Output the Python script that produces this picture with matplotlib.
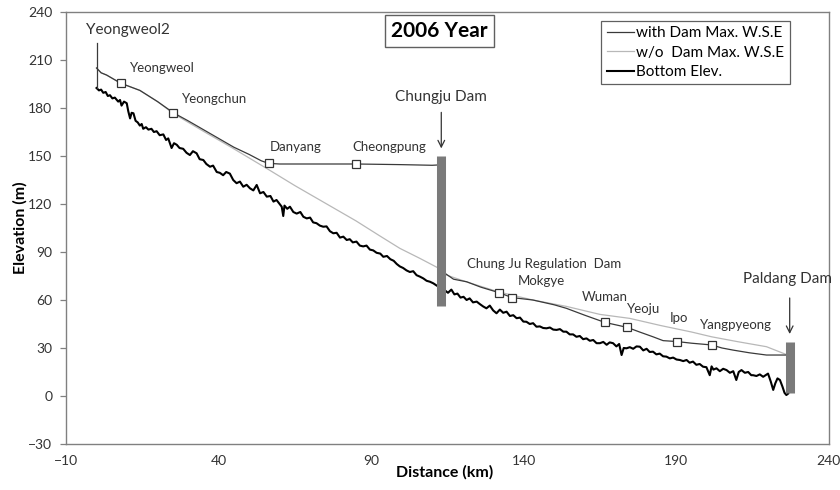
import matplotlib as mpl
import matplotlib.pyplot as plt
import numpy as np

mpl.rcParams['font.family'] = ['Lato', 'DejaVu Sans']

AXIS_GRAY = '#808080'
WITH_DAM_COLOR = '#3a3a3a'
WITHOUT_DAM_COLOR = '#b8b8b8'

# with-dam max water surface elevation, upstream reach (to Chungju Dam)
with_dam_up_km = [0, 1.5, 3.3, 8.0, 10, 14.2, 20, 25.2, 30, 35, 40, 45, 50, 54,
                  56.4, 60, 70, 85.2, 100, 110, 113]
with_dam_up_el = [205, 202, 200.6, 195.4, 194, 191, 184, 177, 172, 166.5, 161,
                  155.5, 151, 147, 145.4, 145, 145, 145, 144.6, 144.2, 144.5]

# with-dam max water surface elevation, downstream reach (to Paldang Dam)
with_dam_dn_km = [114.2, 117, 121.3, 126, 131.9, 136.2, 143, 150, 154, 160, 166.6,
                  173.9, 178, 182.4, 185.7, 190.4, 195, 201.6, 205, 208.6, 214,
                  219.6, 226.1]
with_dam_dn_el = [76.7, 73, 71.4, 68, 64.6, 61.5, 60, 57, 54.8, 50.5, 46,
                  42.9, 40, 37, 34.6, 34, 33, 31.9, 30, 28.7, 27,
                  25.6, 25.6]

# without-dam max water surface elevation
without_dam_km = [0, 1.5, 3.3, 8.0, 10, 14.2, 20, 25.2, 35, 45, 56.4, 65, 75, 85,
                  92.9, 99.4, 106, 113, 114.7, 121, 131.9, 143, 154, 165, 174.8,
                  185, 195, 201.6, 210, 219.6, 226]
without_dam_el = [205, 202, 200.6, 195.4, 194, 191, 184, 176.5, 165.5, 154.5, 141.5,
                  131.5, 120.5, 109.5, 100, 92.3, 86, 79, 75.6, 71.5, 65, 60, 56,
                  51, 48.5, 44, 40, 37, 34, 30.8, 26]

# bottom elevation (thalweg)
bottom_km = [0, 0.8, 1.5, 2.2, 3, 3.7, 4.4, 5.2, 6, 7.1, 7.7, 8.2, 9, 9.9, 10.4,
             11, 11.5, 12.1, 12.8, 13.5, 14.2, 14.8, 15.3, 16.2, 17, 18, 18.8,
             19.7, 20.7, 21.9, 22.8, 23.5, 24.6, 25.4, 26.3, 27.2, 28.4, 29.5,
             30.6, 31.6, 32.8, 33.8, 35, 36, 37.2, 38.2, 39.4, 40.4, 41.5, 42.5,
             43.7, 44.8, 45.9, 47, 48.1, 49.2, 50.3, 51.4, 52.5, 53.6, 54.7, 55.8,
             57, 58, 59, 60, 60.7, 61.2, 61.6, 62.5, 63.4, 64.5, 65.6, 66.8, 67.8,
             68.9, 70, 71, 72.1, 73.2, 74.3, 75.4, 76.5, 77.6, 78.7, 79.8, 80.9,
             82, 83, 84, 85.2, 86.3, 87.4, 88.5, 89.6, 90.7, 91.8, 93, 94, 95.2,
             96.3, 97.4, 98.4, 99.4, 100.5, 101.6, 102.7, 103.8, 104.9, 106, 107.1,
             108.2, 109.3, 110.4, 111.5, 112.6, 113.5, 114.2, 115.2, 116.3, 117.3,
             118.3, 119.3, 120.3, 121.3, 122.3, 123.4, 124.6, 125.6, 126.7, 127.8,
             128.9, 130, 131.1, 132.2, 133.3, 134.4, 135.5, 136.6, 137.7, 138.8,
             139.9, 140.9, 142, 143.1, 144.2, 145.3, 146.4, 147.5, 148.6, 149.7,
             150.8, 151.9, 153, 154, 155.1, 156.2, 157.3, 158.4, 159.5, 160.6,
             161.7, 162.8, 163.9, 165, 166.1, 167.2, 168.2, 169.3, 170.4, 171.3,
             172.1, 172.8, 173.7, 174.8, 175.9, 177, 178.1, 179.2, 180.3, 181.3,
             182.4, 183.5, 184.6, 185.7, 186.8, 187.9, 189, 190.1, 191.2, 192.3,
             193.4, 194.4, 195.5, 196.6, 197.7, 198.8, 199.9, 201, 201.6, 202.2,
             203.2, 204.3, 205.4, 206.5, 207.6, 208.7, 209.7, 210.5, 211.4, 212.5,
             213.6, 214.6, 215.2, 216.3, 217.4, 218.5, 219.3, 220.1, 221, 221.8,
             222.5, 223.2, 224, 224.8, 225.5, 226.1, 226.7]
bottom_el = [192.5, 191, 191.5, 189.5, 190, 187.5, 188, 186, 186.5, 184, 185, 181.5,
             184, 183, 178, 173.5, 177, 176.7, 172, 171, 169, 170, 167, 168, 166.5,
             167, 165, 165.5, 163, 163.5, 160, 161, 155, 158, 157, 155, 154.5, 152,
             150.6, 153, 151.7, 148, 147.5, 145, 143.3, 144, 140, 139.5, 138, 140,
             139, 135, 133, 134, 130.8, 132, 129.8, 128.5, 131.9, 126.7, 127.5,
             124.6, 125, 121.5, 122.5, 120, 118.3, 112.5, 119, 117, 118.3, 115, 114,
             115, 112, 111, 111.5, 108.5, 108, 106.5, 105.8, 106, 103, 101.7, 102,
             99, 99.6, 97.5, 98, 96, 96.5, 94, 93.5, 94, 91.5, 91, 89.5, 89, 87,
             87.5, 85.5, 84.5, 82.5, 81, 80, 78.5, 77.5, 78, 75.5, 74.6, 73.5, 72,
             71.4, 70.4, 69, 68, 66.5, 66, 64.5, 66.5, 63.5, 64, 61.5, 62, 60, 61,
             58.5, 59, 57.5, 56, 54.8, 56.5, 53.5, 51.7, 54, 52, 52.7, 50, 50.5,
             48.6, 49, 46.5, 46.4, 45, 45.5, 43.3, 43.5, 42.5, 42.3, 42.8, 41.5,
             41.3, 41.8, 40.2, 40.2, 38.5, 38.5, 37, 37.5, 35.5, 36, 34.5, 35, 33,
             33, 33.8, 32, 33.5, 33, 31, 32.5, 25.6, 30, 29.8, 30.5, 29.5, 31, 30.8,
             28.5, 29.5, 27.5, 27.7, 26, 26.5, 24.8, 24.6, 23.5, 24, 22.8, 22.5,
             21.8, 22.5, 20.8, 21.5, 19.5, 20, 18.3, 18, 13, 18.5, 16.5, 17.3, 15.5,
             17, 16.2, 14.5, 15.5, 10, 15, 16.2, 14.5, 15, 13, 13, 12.5, 13.5, 12,
             13, 14, 9, 3.8, 8, 11, 10, 6, 2, 0.6, 1.5]

# gauging stations on the with-dam profile
station_names = ['Yeongweol', 'Yeongchun', 'Danyang', 'Cheongpung',
                 'Chung Ju Regulation  Dam', 'Mokgye', 'Wuman', 'Yeoju', 'Ipo',
                 'Yangpyeong']
station_km = [8.0, 25.2, 56.4, 85.2, 131.9, 136.2, 166.6, 173.9, 190.4, 201.6]
station_el = [195.4, 177, 145.4, 145, 64.6, 61.5, 46, 42.9, 34, 31.9]
# label anchor (left, centre) for each station name
label_km = [11, 28, 56.8, 83.7, 121.4, 138.1, 159, 173.8, 187.9, 197.7]
label_el = [205, 185.6, 155.6, 155.6, 82.5, 71.9, 61.9, 54.4, 48.8, 44.4]

# dams: location, top, bottom of the bar
dam_names = ['Chungju Dam', 'Paldang Dam']
dam_km = [113, 227.2]
dam_top = [150, 34]
dam_bot = [56, 2]

fig = plt.figure(figsize=(8.4, 4.9), dpi=100)
ax = fig.add_axes([0.0786, 0.0939, 0.908, 0.8816])

ax.plot(with_dam_up_km + [np.nan] + with_dam_dn_km,
        with_dam_up_el + [np.nan] + with_dam_dn_el,
        color=WITH_DAM_COLOR, lw=0.9, label='with Dam Max. W.S.E', zorder=3)
ax.plot(without_dam_km, without_dam_el, color=WITHOUT_DAM_COLOR, lw=0.9,
        label='w/o  Dam Max. W.S.E', zorder=2)
ax.plot(bottom_km, bottom_el, color='black', lw=1.5, label='Bottom Elev.', zorder=2)

ax.plot(station_km, station_el, linestyle='none', marker='s', markersize=5.5,
        markerfacecolor='white', markeredgecolor='#333333', markeredgewidth=0.9,
        zorder=4)
for name, x, y in zip(station_names, label_km, label_el):
    ax.text(x, y, name, ha='left', va='center', fontsize=9.5, color='#333333')

# dam bars and arrows
for name, x, top, bot in zip(dam_names, dam_km, dam_top, dam_bot):
    ax.vlines(x, bot, top, colors='#7a7a7a', linewidth=6.5, zorder=5)
    ax.annotate('', xy=(x, top + 3), xytext=(x, top + 29),
                arrowprops=dict(arrowstyle='->', color='#333333', lw=0.9,
                                mutation_scale=12))
ax.text(dam_km[0], 186.9, dam_names[0], ha='center', va='center', fontsize=11,
        color='#333333')
ax.text(211.8, 73.1, dam_names[1], ha='left', va='center', fontsize=11,
        color='#333333')

# upstream end
ax.plot([0, 0], [192.5, 220.6], color=WITH_DAM_COLOR, lw=0.9)
ax.text(-3.4, 228.8, 'Yeongweol2', ha='left', va='center', fontsize=11,
        color='#333333')

ax.text(112.5, 228, '2006 Year', ha='center', va='center', fontsize=15,
        weight='bold', bbox=dict(boxstyle='square,pad=0.3', facecolor='white',
                                 edgecolor='#606060', linewidth=1.0))

leg = ax.legend(loc='upper right', bbox_to_anchor=(0.949, 0.979), fontsize=11,
                fancybox=False, edgecolor='#606060', framealpha=1,
                handlelength=1.8, handletextpad=0.15, borderpad=0.35,
                labelspacing=0.35, borderaxespad=0)
leg.get_frame().set_linewidth(0.9)

ax.set_xlim(-10, 240)
ax.set_ylim(-30, 240)
ax.set_xticks(np.arange(-10, 241, 50))
ax.set_yticks(np.arange(-30, 241, 30))
ax.tick_params(axis='x', length=0, pad=8, labelsize=10, colors='#333333')
ax.tick_params(axis='y', length=4, width=0.9, pad=6, labelsize=10,
               colors='#333333', color=AXIS_GRAY)
for s in ax.spines.values():
    s.set_color(AXIS_GRAY)
    s.set_linewidth(1.0)

ax.set_xlabel('Distance (km)', fontsize=11.5, weight='bold')
ax.set_ylabel('Elevation (m)', fontsize=11.5, weight='bold')
ax.xaxis.label.set_va('center')
ax.yaxis.label.set_va('center')
ax.xaxis.set_label_coords(0.497, -0.065)
ax.yaxis.set_label_coords(-0.06, 0.5)

fig.savefig('out.png', dpi=100)
